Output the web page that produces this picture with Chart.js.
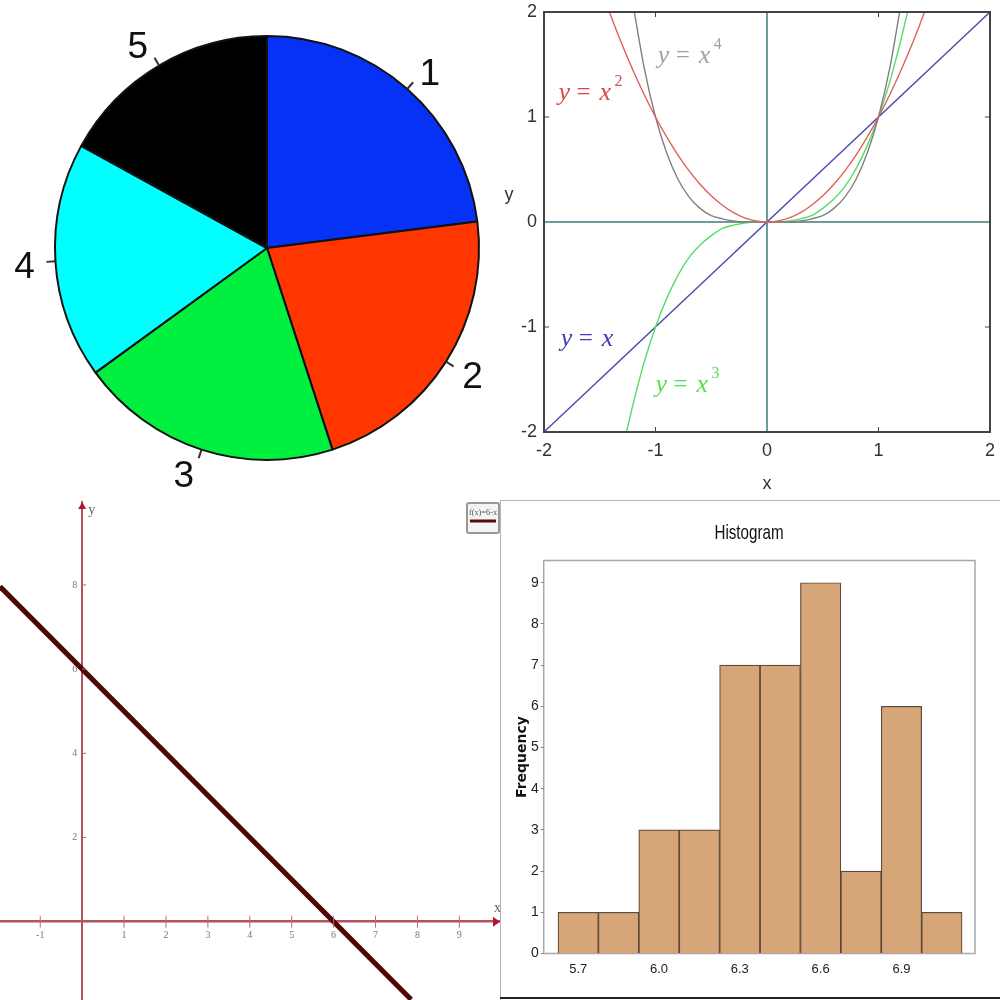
<!DOCTYPE html>
<html>
<head>
<meta charset="utf-8">
<script src="https://cdn.jsdelivr.net/npm/chart.js@4"></script>
<style>
    html, body { margin: 0; padding: 0; background: #fff; }
    #page { position: relative; width: 1000px; height: 1000px; overflow: hidden; }
    canvas { position: absolute; filter: blur(0.4px); }
    #pie { left: 0; top: 0; }
    #powers { left: 500px; top: 0; }
    #line { left: 0; top: 495px; filter: blur(0.7px); }
    #hist { left: 500px; top: 495px; }
</style>
</head>
<body>
<div id="page">
    <canvas id="pie" width="500" height="495"></canvas>
    <canvas id="powers" width="500" height="495"></canvas>
    <canvas id="line" width="500" height="505"></canvas>
    <canvas id="hist" width="500" height="505"></canvas>
</div>
<script>
// pie
const pieLabels = ["1", "2", "3", "4", "5"];
const pieValues = [23, 22, 20, 18, 17];
const pieColors = ["#0532f5", "#ff3600", "#00f040", "#00ffff", "#000000"];

// powers of x
const linX = [-2, 2];
const linY = [-2, 2];
const sqX = [-1.41, -1.3, -1.2, -1.1, -1, -0.9, -0.8, -0.7, -0.6, -0.5, -0.4, -0.3, -0.2, -0.1, 0, 0.1, 0.2, 0.3, 0.4, 0.5, 0.6, 0.7, 0.8, 0.9, 1, 1.1, 1.2, 1.3, 1.41];
const sqY = [1.99, 1.69, 1.44, 1.21, 1, 0.81, 0.64, 0.49, 0.36, 0.25, 0.16, 0.09, 0.04, 0.01, 0, 0.01, 0.04, 0.09, 0.16, 0.25, 0.36, 0.49, 0.64, 0.81, 1, 1.21, 1.44, 1.69, 1.99];
const cubeX = [-1.26, -1.2, -1.1, -1, -0.9, -0.8, -0.7, -0.6, -0.5, -0.4, -0.3, -0.2, -0.1, 0, 0.1, 0.2, 0.3, 0.4, 0.5, 0.6, 0.7, 0.8, 0.9, 1, 1.1, 1.2, 1.26];
const cubeY = [-2, -1.73, -1.33, -1, -0.73, -0.51, -0.34, -0.22, -0.13, -0.06, -0.03, -0.01, 0, 0, 0, 0.01, 0.03, 0.06, 0.13, 0.22, 0.34, 0.51, 0.73, 1, 1.33, 1.73, 2];
const quadX = [-1.19, -1.1, -1, -0.9, -0.8, -0.7, -0.6, -0.5, -0.4, -0.3, -0.2, -0.1, 0, 0.1, 0.2, 0.3, 0.4, 0.5, 0.6, 0.7, 0.8, 0.9, 1, 1.1, 1.19];
const quadY = [2, 1.46, 1, 0.66, 0.41, 0.24, 0.13, 0.06, 0.03, 0.01, 0, 0, 0, 0, 0, 0.01, 0.03, 0.06, 0.13, 0.24, 0.41, 0.66, 1, 1.46, 2];
const powerTicks = [-2, -1, 0, 1, 2];

// straight line
const lineX = [-1.96, 7.85];
const lineY = [7.96, -1.85];
const lineXTicks = [-1, 1, 2, 3, 4, 5, 6, 7, 8, 9];
const lineYTicks = [2, 4, 6, 8];

// histogram
const binCenters = [5.7, 5.85, 6.0, 6.15, 6.3, 6.45, 6.6, 6.75, 6.9, 7.05];
const binCounts = [1, 1, 3, 3, 7, 7, 9, 2, 6, 1];
const histXTicks = [5.7, 6.0, 6.3, 6.6, 6.9];
const histYTicks = [0, 1, 2, 3, 4, 5, 6, 7, 8, 9];

Chart.defaults.animation = false;
Chart.defaults.responsive = false;
Chart.defaults.plugins.legend.display = false;
Chart.defaults.plugins.tooltip.enabled = false;

function pairs(xs, ys) {
    return xs.map((x, i) => ({ x: x, y: ys[i] }));
}

// small shifts so the pie numbers sit where they do in the original
const pieLabelNudge = [[4, 4], [3, -2], [-9, -2], [-3, 2], [-7, 3]];

const pieTicks = {
    id: "pieTicks",
    afterDraw(chart) {
        const ctx = chart.ctx;
        const arcs = chart.getDatasetMeta(0).data;
        ctx.save();
        ctx.fillStyle = "#111";
        ctx.strokeStyle = "#333";
        ctx.lineWidth = 2;
        ctx.font = "37px 'Liberation Sans'";
        ctx.textAlign = "center";
        ctx.textBaseline = "middle";
        arcs.forEach((arc, i) => {
            const a = (arc.startAngle + arc.endAngle) / 2;
            const r = arc.outerRadius;
            ctx.beginPath();
            ctx.moveTo(arc.x + Math.cos(a) * r, arc.y + Math.sin(a) * r);
            ctx.lineTo(arc.x + Math.cos(a) * (r + 9), arc.y + Math.sin(a) * (r + 9));
            ctx.stroke();
            ctx.fillText(pieLabels[i],
                arc.x + Math.cos(a) * 240 + pieLabelNudge[i][0],
                arc.y + Math.sin(a) * 240 + 3 + pieLabelNudge[i][1]);
        });
        ctx.restore();
    }
};

new Chart(document.getElementById("pie"), {
    type: "pie",
    data: {
        labels: pieLabels,
        datasets: [{
            data: pieValues,
            backgroundColor: pieColors,
            borderColor: "#111",
            borderWidth: 2
        }]
    },
    options: {
        layout: { padding: { left: 54, right: 20, top: 34, bottom: 33 } }
    },
    plugins: [pieTicks]
});

// y = x^n captions, placed in data units
const captions = [
    { x: -1.87, y: 1.16, color: "#d8484a", exp: "2" },
    { x: -0.98, y: 1.51, color: "#a0a0a0", exp: "4" },
    { x: -1.85, y: -1.18, color: "#3c3cc0", exp: "" },
    { x: -1.0, y: -1.62, color: "#55e055", exp: "3" }
];

const powerDecor = {
    id: "powerDecor",
    afterDraw(chart) {
        const ctx = chart.ctx;
        const a = chart.chartArea;
        const sx = chart.scales.x;
        const sy = chart.scales.y;
        ctx.save();
        ctx.strokeStyle = "#444";
        ctx.lineWidth = 2;
        ctx.strokeRect(a.left, a.top, a.width, a.height);
        ctx.lineWidth = 1;
        [-1, 1].forEach(v => {
            const px = sx.getPixelForValue(v);
            const py = sy.getPixelForValue(v);
            ctx.beginPath();
            ctx.moveTo(px, a.bottom); ctx.lineTo(px, a.bottom - 5);
            ctx.moveTo(px, a.top); ctx.lineTo(px, a.top + 5);
            ctx.moveTo(a.left, py); ctx.lineTo(a.left + 5, py);
            ctx.moveTo(a.right, py); ctx.lineTo(a.right - 5, py);
            ctx.stroke();
        });
        ctx.textBaseline = "alphabetic";
        captions.forEach(c => {
            let px = sx.getPixelForValue(c.x);
            const py = sy.getPixelForValue(c.y);
            ctx.fillStyle = c.color;
            ctx.font = "italic 26px 'Liberation Serif'";
            ctx.fillText("y", px, py);
            px += 18;
            ctx.font = "25px 'Liberation Serif'";
            ctx.fillText("=", px, py);
            px += 23;
            ctx.font = "italic 26px 'Liberation Serif'";
            ctx.fillText("x", px, py);
            px += 15;
            ctx.font = "16px 'Liberation Serif'";
            ctx.fillText(c.exp, px, py - 14);
        });
        ctx.fillStyle = "#333";
        ctx.font = "18px 'Liberation Sans'";
        ctx.textAlign = "center";
        ctx.textBaseline = "middle";
        ctx.fillText("y", 9, 195);
        ctx.restore();
    }
};

new Chart(document.getElementById("powers"), {
    type: "scatter",
    data: {
        datasets: [
            { data: pairs(sqX, sqY), borderColor: "#e0605a" },
            { data: pairs(quadX, quadY), borderColor: "#808080" },
            { data: pairs(cubeX, cubeY), borderColor: "#55dd66" },
            { data: pairs(linX, linY), borderColor: "#4c4cb0" }
        ]
    },
    options: {
        showLine: true,
        layout: { autoPadding: false, padding: { left: 0, right: 10, top: 12, bottom: 0 } },
        elements: {
            point: { radius: 0 },
            line: { borderWidth: 1.4, cubicInterpolationMode: "monotone" }
        },
        scales: {
            x: {
                min: -2, max: 2,
                afterBuildTicks: s => { s.ticks = powerTicks.map(v => ({ value: v })); },
                afterFit: s => { s.height = 63; s.paddingLeft = 0; s.paddingRight = 0; },
                grid: {
                    drawTicks: false,
                    color: c => c.tick && c.tick.value === 0 ? "#6d9c9c" : "transparent",
                    lineWidth: 2
                },
                border: { display: false },
                ticks: { color: "#333", font: { family: "Liberation Sans", size: 18 }, padding: 8, maxRotation: 0 },
                title: { display: true, text: "x", color: "#333", font: { family: "Liberation Sans", size: 18 }, padding: { top: 14, bottom: 0 } }
            },
            y: {
                min: -2, max: 2,
                afterBuildTicks: s => { s.ticks = powerTicks.map(v => ({ value: v })); },
                afterFit: s => { s.width = 44; s.paddingTop = 0; s.paddingBottom = 0; },
                grid: {
                    drawTicks: false,
                    color: c => c.tick && c.tick.value === 0 ? "#6d9c9c" : "transparent",
                    lineWidth: 2
                },
                border: { display: false },
                ticks: { color: "#333", font: { family: "Liberation Sans", size: 18 }, padding: 7 }
            }
        }
    },
    plugins: [powerDecor]
});

const lineDecor = {
    id: "lineDecor",
    afterDraw(chart) {
        const ctx = chart.ctx;
        const sx = chart.scales.x;
        const sy = chart.scales.y;
        const x0 = sx.getPixelForValue(0);
        const y0 = sy.getPixelForValue(0);
        ctx.save();
        ctx.strokeStyle = "#c06a70";
        ctx.fillStyle = "#b01830";
        ctx.lineWidth = 1;
        lineXTicks.forEach(v => {
            const p = sx.getPixelForValue(v);
            ctx.beginPath();
            ctx.moveTo(p, y0 - 6);
            ctx.lineTo(p, y0 + 6);
            ctx.stroke();
        });
        lineYTicks.forEach(v => {
            const p = sy.getPixelForValue(v);
            ctx.beginPath();
            ctx.moveTo(x0, p);
            ctx.lineTo(x0 + 4, p);
            ctx.stroke();
        });
        // arrow heads
        const right = chart.chartArea.right;
        const top = chart.chartArea.top;
        ctx.beginPath();
        ctx.moveTo(right, y0);
        ctx.lineTo(right - 7, y0 - 5);
        ctx.lineTo(right - 7, y0 + 5);
        ctx.fill();
        ctx.beginPath();
        ctx.moveTo(x0, top);
        ctx.lineTo(x0 - 4, top + 7);
        ctx.lineTo(x0 + 4, top + 7);
        ctx.fill();
        // axis names
        ctx.fillStyle = "#666";
        ctx.font = "14px 'Liberation Serif'";
        ctx.fillText("y", x0 + 6, top + 12);
        ctx.fillText("x", right - 6, y0 - 10);
        // little function box
        const bx = right - 33;
        const by = top + 1;
        ctx.fillStyle = "#f4f4f4";
        ctx.strokeStyle = "#999";
        ctx.lineWidth = 2;
        ctx.beginPath();
        ctx.roundRect(bx, by, 32, 30, 2);
        ctx.fill();
        ctx.stroke();
        ctx.fillStyle = "#555";
        ctx.font = "9px 'Liberation Serif'";
        ctx.fillText("f(x)=6-x", bx + 2, by + 12, 28);
        ctx.strokeStyle = "#5a0a0a";
        ctx.lineWidth = 3;
        ctx.beginPath();
        ctx.moveTo(bx + 3, by + 18);
        ctx.lineTo(bx + 29, by + 18);
        ctx.stroke();
        ctx.restore();
    }
};

new Chart(document.getElementById("line"), {
    type: "scatter",
    data: {
        datasets: [{
            data: pairs(lineX, lineY),
            showLine: true,
            borderColor: "#4f0606",
            borderWidth: 5,
            pointRadius: 0
        }]
    },
    options: {
        layout: { autoPadding: false, padding: { left: 0, right: 0, top: 7, bottom: 0 } },
        scales: {
            x: {
                position: { y: 0 },
                min: -1.96, max: 9.97,
                afterBuildTicks: s => { s.ticks = lineXTicks.map(v => ({ value: v })); },
                afterFit: s => { s.paddingLeft = 0; s.paddingRight = 0; },
                grid: { display: false },
                border: { color: "#b0555c", width: 2.5 },
                ticks: { color: "#777", font: { family: "Liberation Serif", size: 10 }, padding: 0, maxRotation: 0 }
            },
            y: {
                position: { x: 0 },
                min: -1.86, max: 9.97,
                afterBuildTicks: s => { s.ticks = lineYTicks.map(v => ({ value: v })); },
                afterFit: s => { s.paddingTop = 0; s.paddingBottom = 0; },
                grid: { display: false },
                border: { color: "#b0555c", width: 2 },
                ticks: { color: "#777", font: { family: "Liberation Serif", size: 10 }, callback: v => v + "  " }
            }
        }
    },
    plugins: [lineDecor]
});

const histFrame = {
    id: "histFrame",
    beforeDraw(chart) {
        const ctx = chart.ctx;
        const a = chart.chartArea;
        ctx.save();
        ctx.strokeStyle = "#b5b5b5";
        ctx.lineWidth = 1;
        ctx.beginPath();
        ctx.moveTo(0.5, 5);
        ctx.lineTo(0.5, chart.height);
        ctx.moveTo(0, 5.5);
        ctx.lineTo(chart.width, 5.5);
        ctx.stroke();
        ctx.strokeStyle = "#a8a8a8";
        ctx.lineWidth = 1.5;
        ctx.strokeRect(a.left, a.top, a.width, a.height);
        ctx.strokeStyle = "#222";
        ctx.lineWidth = 2;
        ctx.beginPath();
        ctx.moveTo(0, chart.height - 2);
        ctx.lineTo(chart.width, chart.height - 2);
        ctx.stroke();
        // title squeezed to the width it has in the original
        ctx.fillStyle = "#111";
        ctx.font = "21px 'Liberation Sans'";
        ctx.textAlign = "center";
        ctx.textBaseline = "middle";
        ctx.fillText("Histogram", 249, 38, 69);
        ctx.restore();
    }
};

new Chart(document.getElementById("hist"), {
    type: "bar",
    data: {
        datasets: [{
            data: pairs(binCenters, binCounts),
            backgroundColor: "#d6a678",
            borderColor: "#5c4a3a",
            borderWidth: 1.2,
            barPercentage: 1,
            categoryPercentage: 1
        }]
    },
    options: {
        layout: { autoPadding: false, padding: { left: 0, right: 25, top: 65.5, bottom: 0 } },
        scales: {
            x: {
                type: "linear",
                offset: false,
                min: 5.572, max: 7.173,
                afterBuildTicks: s => { s.ticks = histXTicks.map(v => ({ value: v })); },
                afterFit: s => { s.height = 46.5; },
                grid: { display: false },
                border: { display: false },
                ticks: {
                    color: "#222",
                    font: { family: "Liberation Sans", size: 13 },
                    maxRotation: 0,
                    padding: 0,
                    callback: v => v.toFixed(1)
                }
            },
            y: {
                min: 0, max: 9.54,
                afterBuildTicks: s => { s.ticks = histYTicks.map(v => ({ value: v })); },
                afterFit: s => { s.width = 43.7; },
                grid: { drawOnChartArea: false, tickLength: 3, color: "#888" },
                border: { display: false },
                ticks: { color: "#222", font: { family: "Liberation Sans", size: 14 }, padding: 2 },
                title: {
                    display: true,
                    text: "Frequency",
                    color: "#111",
                    font: { family: "DejaVu Sans", size: 14, weight: "bold" },
                    padding: { top: 14, bottom: 0 }
                }
            }
        }
    },
    plugins: [histFrame]
});
</script>
</body>
</html>
